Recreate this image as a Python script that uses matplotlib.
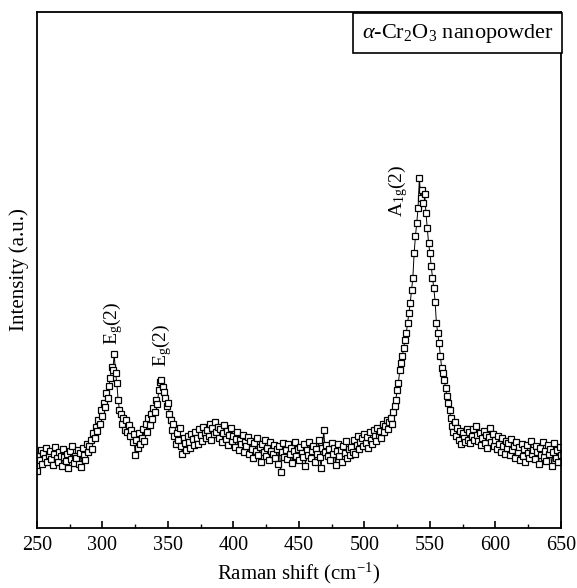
import numpy as np
import matplotlib
matplotlib.use("Agg")
import matplotlib.pyplot as plt
from matplotlib.ticker import MultipleLocator

plt.rcParams['font.family'] = ['Liberation Serif', 'DejaVu Serif']
plt.rcParams['mathtext.fontset'] = 'custom'
plt.rcParams['mathtext.rm'] = 'Liberation Serif'
plt.rcParams['mathtext.it'] = 'Liberation Serif:italic'

# Raman shift (cm^-1), one point per wavenumber from 250 to 650
raman_shift = np.arange(250, 651, 1)

# Intensity (a.u.)
intensity = [
    57, 72, 68, 78, 64, 75, 70, 80, 66, 73,
    77, 69, 63, 74, 81, 70, 66, 76, 72, 62,
    79, 71, 67, 74, 60, 77, 69, 82, 65, 72,
    70, 78, 64, 75, 61, 80, 73, 68, 84, 76,
    82, 88, 79, 95, 90, 101, 97, 108, 104, 118,
    112, 125, 121, 135, 130, 142, 150, 161, 158, 174,
    155, 145, 128, 118, 114, 104, 110, 98, 108, 96,
    103, 92, 98, 86, 94, 73, 88, 80, 95, 84,
    90, 99, 87, 104, 96, 110, 103, 114, 109, 120,
    116, 128, 124, 138, 146, 148, 141, 136, 130, 122,
    125, 114, 108, 98, 104, 92, 84, 95, 88, 100,
    82, 74, 90, 85, 78, 92, 86, 80, 94, 89,
    83, 96, 90, 84, 99, 93, 87, 101, 95, 90,
    98, 92, 104, 88, 100, 94, 106, 96, 101, 90,
    99, 86, 95, 103, 89, 97, 83, 93, 100, 87,
    92, 81, 89, 96, 78, 88, 84, 93, 76, 86,
    82, 91, 74, 87, 79, 70, 85, 77, 90, 73,
    81, 66, 84, 76, 88, 72, 80, 68, 86, 77,
    74, 83, 70, 79, 64, 82, 56, 76, 85, 71,
    78, 69, 84, 74, 80, 65, 77, 86, 72, 79,
    68, 81, 75, 71, 84, 62, 78, 73, 86, 70,
    77, 82, 66, 79, 74, 88, 71, 60, 80, 98,
    76, 83, 72, 79, 68, 85, 74, 80, 63, 77,
    84, 72, 78, 66, 82, 75, 87, 70, 79, 73,
    81, 76, 88, 74, 83, 92, 79, 86, 90, 82,
    94, 85, 91, 80, 96, 88, 84, 98, 92, 87,
    100, 93, 97, 90, 104, 96, 102, 108, 99, 106,
    110, 104, 116, 122, 128, 138, 145, 158, 165, 172,
    180, 188, 195, 205, 215, 225, 238, 250, 275, 292,
    305, 320, 350, 330, 338, 325, 334, 315, 300, 285,
    275, 262, 250, 240, 226, 205, 195, 185, 172, 160,
    155, 148, 140, 132, 125, 118, 110, 102, 96, 106,
    92, 100, 88, 97, 84, 95, 90, 86, 99, 88,
    96, 85, 92, 99, 88, 102, 93, 87, 95, 83,
    90, 97, 85, 93, 80, 91, 100, 86, 94, 82,
    88, 79, 92, 84, 76, 90, 82, 74, 87, 80,
    85, 73, 89, 78, 82, 70, 86, 76, 81, 68,
    84, 72, 79, 66, 83, 75, 70, 87, 74, 78,
    69, 82, 76, 64, 80, 73, 86, 71, 77, 67,
    83, 74, 79, 62, 76, 85, 70, 78, 66, 81,
    73,
]

# Peak labels: (position, label-base intensity, text)
peak_pos = [308, 345.5, 526]
peak_base = [183, 161, 311]
peak_text = [r'E$_\mathrm{g}$(2)', r'E$_\mathrm{g}$(2)', r'A$_\mathrm{1g}$(2)']

fig = plt.figure(figsize=(5.77, 5.88), dpi=100)
ax = fig.add_axes([0.064, 0.102, 0.908, 0.878])

ax.plot(raman_shift, intensity, color='black', lw=0.7,
        marker='s', markersize=4.2, markerfacecolor='white',
        markeredgecolor='black', markeredgewidth=0.9)

for x, y, t in zip(peak_pos, peak_base, peak_text):
    ax.text(x, y, t, rotation=90, ha='center', va='bottom', fontsize=14)

ax.set_xlim(250, 650)
ax.set_ylim(0, 516)
ax.xaxis.set_major_locator(MultipleLocator(50))
ax.xaxis.set_minor_locator(MultipleLocator(25))
ax.tick_params(axis='x', which='major', direction='in', length=5, width=1.2,
               labelsize=14.5, pad=6, top=False)
ax.tick_params(axis='x', which='minor', direction='in', length=3, width=1.0, top=False)
ax.set_yticks([])
for s in ax.spines.values():
    s.set_linewidth(1.3)

ax.set_xlabel('Raman shift (cm$^{-1}$)', fontsize=15, labelpad=4)
ax.set_ylabel('Intensity (a.u.)', fontsize=15, labelpad=6)

ax.text(0.986, 0.981, r'$\alpha$-Cr$_2$O$_3$ nanopowder', transform=ax.transAxes,
        ha='right', va='top', fontsize=16,
        bbox=dict(boxstyle='square,pad=0.4', facecolor='white',
                  edgecolor='black', linewidth=1.2))

fig.savefig('out.png', dpi=100)
